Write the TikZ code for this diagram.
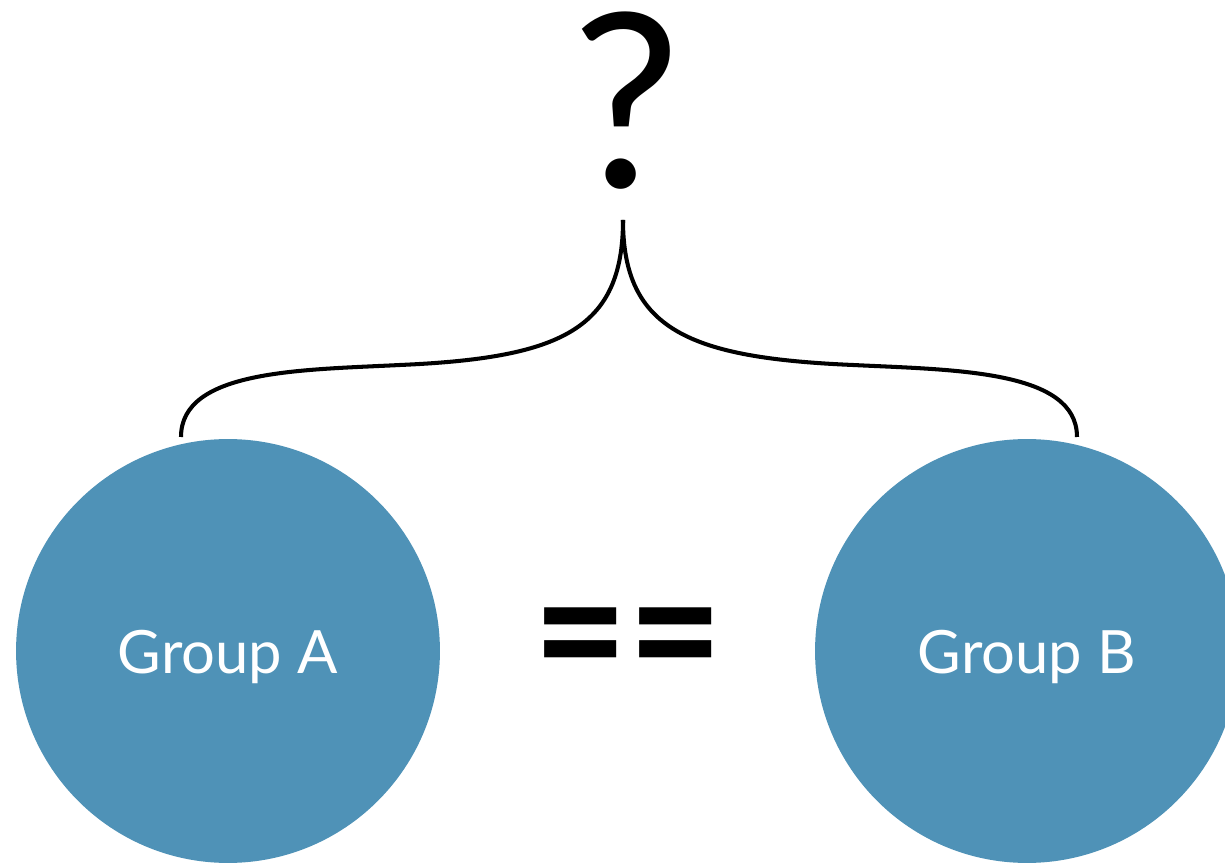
\documentclass[tikz,border=0pt]{standalone}
\usepackage{fontspec}
\setmainfont{Lato}
\usepackage{tikz}
\definecolor{groupblue}{RGB}{79,146,183}

\begin{document}
\begin{tikzpicture}[x=0.02cm, y=-0.02cm,
		group/.style={circle, fill=groupblue, text=white, minimum size=8.48cm, inner sep=0pt, font=\fontsize{34}{40}\selectfont},
		brace/.style={line width=2.3pt, line cap=butt}]
	\useasboundingbox (0,0) rectangle (1225,864);

	\node [group] (A) at (228,651) {\raisebox{-0.12cm}[\height][\depth]{Group A}};
	\node [group] (B) at (1027,651) {\raisebox{-0.12cm}[\height][\depth]{Group B}};
	\node [font=\fontsize{36}{40}\bfseries\selectfont, xscale=2.57, yscale=2.95] (eq) at (628,652) {==};
	\node [font=\fontsize{138}{140}\selectfont, inner sep=0pt, anchor=base, text height=3.5cm, text depth=0pt] (q) at (627,188) {?};

	% curly brace between the two groups
	\coordinate (tip) at (623,220);
	\coordinate (la) at (181,437);
	\coordinate (rb) at (1077,437);
	\draw [brace] (la) .. controls (181,370) and (300,370) .. (400,365)
		.. controls (560,358) and (623,330) .. (tip);
	\draw [brace] (rb) .. controls (1077,370) and (955,370) .. (853,365)
		.. controls (690,358) and (623,330) .. (tip);
\end{tikzpicture}
\end{document}
